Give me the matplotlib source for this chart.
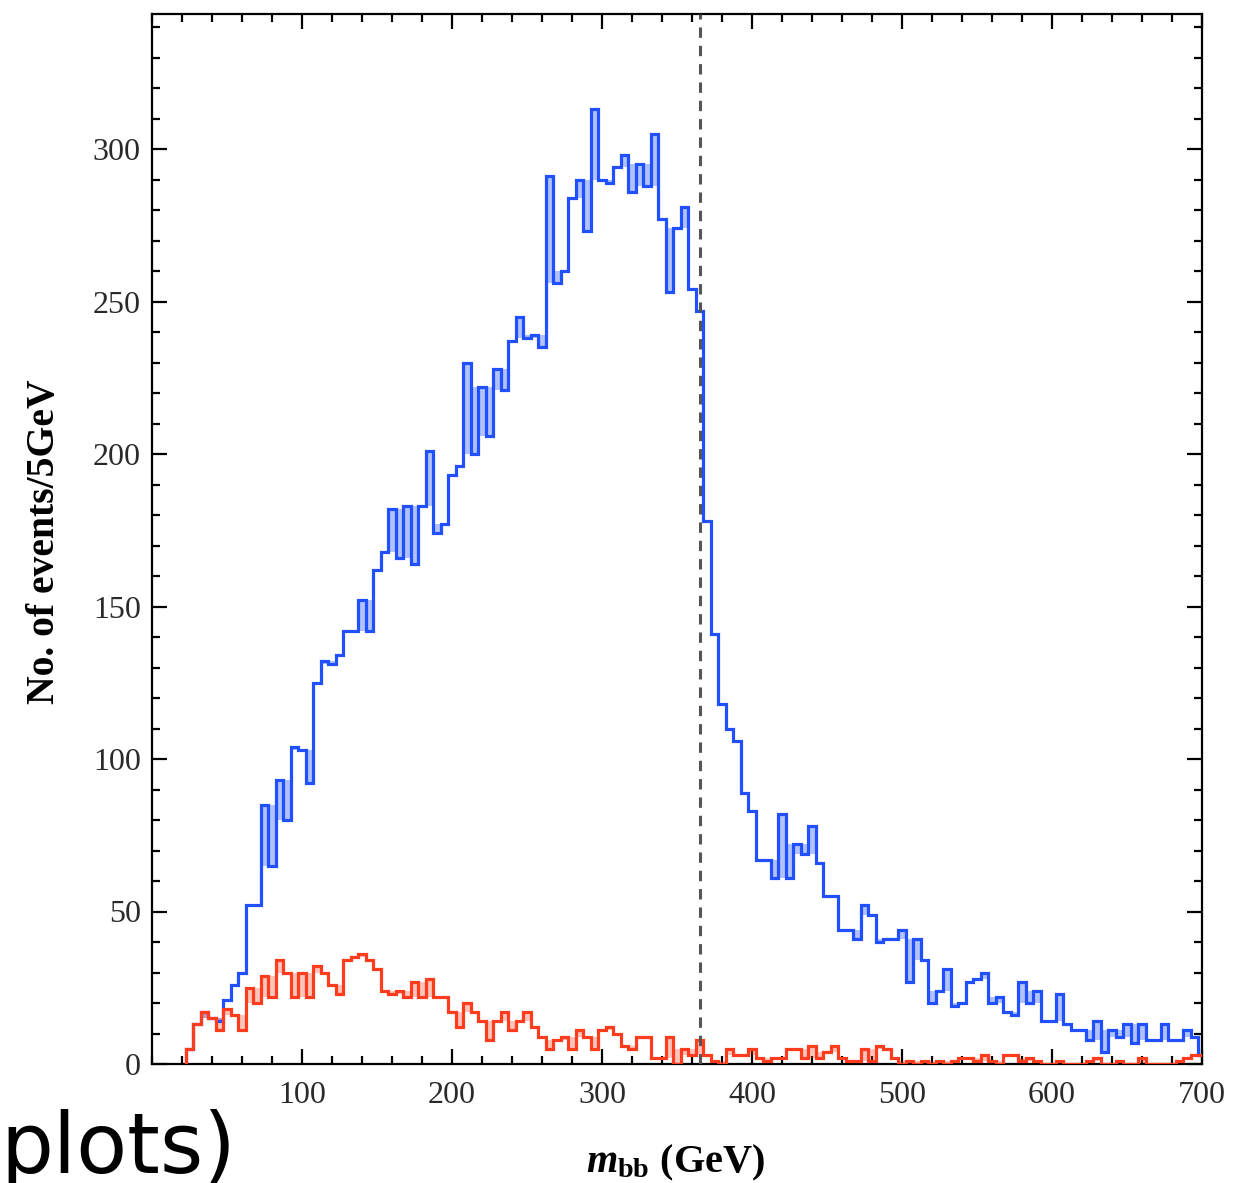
import matplotlib
matplotlib.use("Agg")
import matplotlib.pyplot as plt
from matplotlib.ticker import MultipleLocator
import numpy as np

# m_bb histogram, 5 GeV bins centred on 25, 30, ..., 700 GeV
bin_first = 25
bin_width = 5

signal = [5, 13, 17, 15, 14, 21, 26, 30, 52, 52,
          85, 65, 93, 80, 104, 103, 92, 125, 132, 131,
          134, 142, 142, 152, 142, 162, 168, 182, 166, 183,
          164, 183, 201, 174, 177, 193, 196, 230, 200, 222,
          206, 228, 221, 237, 245, 238, 239, 235, 291, 256,
          260, 284, 290, 273, 313, 290, 289, 294, 298, 286,
          295, 288, 305, 277, 253, 274, 281, 254, 247, 178,
          141, 118, 110, 106, 89, 83, 67, 67, 61, 82,
          61, 72, 69, 78, 66, 55, 55, 44, 44, 41,
          52, 49, 40, 41, 41, 44, 27, 41, 34, 20,
          24, 31, 19, 20, 27, 28, 30, 20, 22, 17,
          16, 27, 20, 24, 14, 14, 23, 13, 11, 11,
          8, 14, 4, 11, 9, 13, 7, 13, 8, 8,
          13, 8, 8, 11, 9, 3]

background = [5, 13, 17, 15, 11, 18, 16, 11, 25, 20,
              29, 22, 34, 30, 22, 30, 22, 32, 30, 26,
              23, 34, 35, 36, 34, 31, 24, 23, 24, 22,
              27, 22, 28, 22, 22, 17, 12, 20, 17, 14,
              8, 14, 17, 11, 14, 17, 12, 9, 5, 8,
              9, 5, 11, 9, 5, 11, 12, 10, 6, 5,
              9, 9, 2, 2, 9, 0, 5, 3, 8, 3,
              1, 0, 5, 3, 3, 5, 2, 1, 2, 2,
              5, 5, 2, 6, 2, 4, 6, 2, 1, 1,
              5, 1, 6, 5, 2, 0, 1, 0, 1, 0,
              1, 0, 1, 2, 2, 1, 3, 1, 0, 3,
              3, 1, 2, 1, 0, 0, 1, 0, 0, 0,
              1, 2, 0, 0, 1, 0, 0, 2, 0, 0,
              0, 0, 1, 2, 3, 3]

cut_value = 365

x_ticks = [100, 200, 300, 400, 500, 600, 700]
y_ticks = [0, 50, 100, 150, 200, 250, 300]

blue = "#2050ff"
red = "#ff3c1e"

plt.rcParams["mathtext.fontset"] = "custom"
plt.rcParams["mathtext.it"] = "Liberation Serif:italic:bold"
plt.rcParams["mathtext.rm"] = "Liberation Serif:bold"
plt.rcParams["mathtext.bf"] = "Liberation Serif:bold"

fig = plt.figure(figsize=(12.54, 11.83), dpi=100)
ax = fig.add_axes([152 / 1254, 1 - 1064 / 1183, 1050 / 1254, 1050 / 1183])

edges = bin_first - bin_width / 2 + bin_width * np.arange(len(signal) + 1)


def draw_hist(values, color, shade):
    v = np.asarray(values, dtype=float)
    ax.stairs(v, edges, baseline=0, color=color, lw=2.3, zorder=3)
    # one-bin spikes and dips look filled in the original rendering
    for i in range(1, len(v) - 1):
        lo_n, hi_n = min(v[i - 1], v[i + 1]), max(v[i - 1], v[i + 1])
        if v[i] > hi_n:
            ax.bar(edges[i], v[i] - hi_n, bottom=hi_n, width=bin_width,
                   align="edge", color=color, alpha=shade, lw=0, zorder=2)
        elif v[i] < lo_n:
            ax.bar(edges[i], lo_n - v[i], bottom=v[i], width=bin_width,
                   align="edge", color=color, alpha=shade, lw=0, zorder=2)


draw_hist(signal, blue, 0.35)
draw_hist(background, red, 0.3)

ax.axvline(cut_value, color="#555555", lw=2.2, ls=(0, (3.4, 2.6)), zorder=4)

ax.set_xlim(0, 700)
ax.set_ylim(0, 1050 / 3.05)

ax.set_xticks(x_ticks)
ax.set_yticks(y_ticks)
ax.xaxis.set_minor_locator(MultipleLocator(20))
ax.yaxis.set_minor_locator(MultipleLocator(10))
ax.tick_params(which="both", direction="in", top=True, right=True,
               width=1.6, color="black")
ax.tick_params(which="major", length=11)
ax.tick_params(which="minor", length=5.5)
ax.tick_params(axis="x", which="major", pad=12)
ax.tick_params(axis="y", which="major", pad=8)
for lab in ax.get_xticklabels() + ax.get_yticklabels():
    lab.set_fontfamily("Liberation Serif")
    lab.set_fontsize(23)
    lab.set_color("#2a2a2a")
for sp in ax.spines.values():
    sp.set_linewidth(1.6)

fig.text(45 / 1254, 1 - 542 / 1183, "No. of events/5GeV", rotation=90,
         ha="center", va="center", fontsize=28.5, fontweight="bold",
         family="Liberation Serif")
fig.text(675 / 1254, 1 - 1172 / 1183, r"$m_{\mathrm{bb}}$ (GeV)",
         ha="center", va="baseline", fontsize=29, fontweight="bold",
         family="Liberation Serif")

fig.text(0.0, 10 / 1183, "plots)", fontsize=60, family="DejaVu Sans",
         ha="left", va="baseline", color="black")

fig.savefig("out.png", dpi=100)
